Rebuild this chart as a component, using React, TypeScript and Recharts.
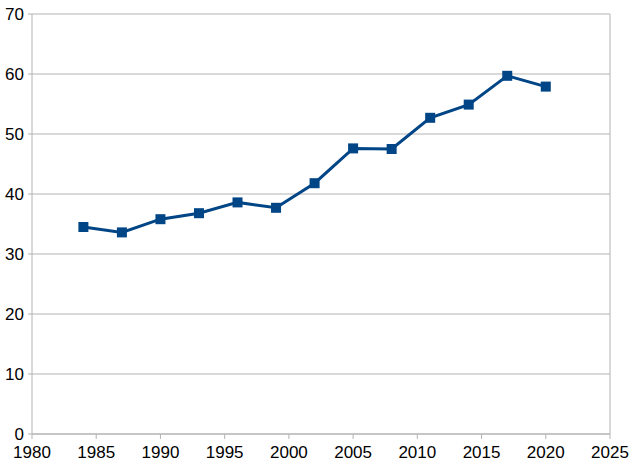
import React from 'react';
import {
  CartesianGrid,
  Line,
  LineChart,
  ReferenceLine,
  XAxis,
  YAxis,
} from 'recharts';

const years = [1984, 1987, 1990, 1993, 1996, 1999, 2002, 2005, 2008, 2011, 2014, 2017, 2020];
const values = [34.5, 33.6, 35.8, 36.8, 38.6, 37.7, 41.8, 47.6, 47.5, 52.7, 54.9, 59.7, 57.9];
const xTicks = [1980, 1985, 1990, 1995, 2000, 2005, 2010, 2015, 2020, 2025];
const yTicks = [0, 10, 20, 30, 40, 50, 60, 70];

const data = years.map((year, i) => ({ year, value: values[i] }));

const GRID = '#b3b3b3';
const BLUE = '#004586';

const SquareDot = (props: any) => {
  const { cx, cy } = props;
  if (cx == null || cy == null) return null;
  return <rect x={cx - 5} y={cy - 5} width={10} height={10} fill={BLUE} />;
};

export default function App() {
  const tickStyle = { fill: '#000', fontSize: 17, fontFamily: 'Liberation Sans, Arial, sans-serif' };
  return (
    <div style={{ position: 'absolute', left: 0, top: 0, background: '#fff' }}>
      <LineChart
        width={640}
        height={467}
        data={data}
        margin={{ top: 14, right: 30, left: 0, bottom: 0 }}
      >
        <CartesianGrid vertical={false} stroke={GRID} />
        <XAxis
          type='number'
          dataKey='year'
          domain={[1980, 2025]}
          ticks={xTicks}
          height={33}
          tickSize={5}
          tickMargin={7}
          stroke={GRID}
          tick={tickStyle}
          interval={0}
        />
        <YAxis
          type='number'
          domain={[0, 70]}
          ticks={yTicks}
          width={32}
          tickSize={4}
          tickMargin={4}
          stroke={GRID}
          tick={tickStyle}
          interval={0}
        />
        <ReferenceLine x={2025} stroke={GRID} />
        <Line
          type='linear'
          dataKey='value'
          stroke={BLUE}
          strokeWidth={3}
          dot={<SquareDot />}
          activeDot={false}
          isAnimationActive={false}
        />
      </LineChart>
    </div>
  );
}
